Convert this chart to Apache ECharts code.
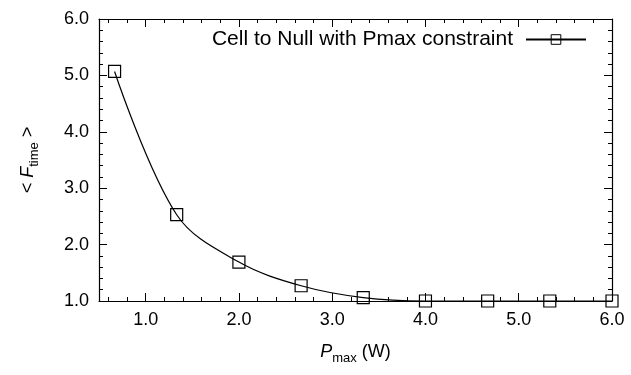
<!DOCTYPE html>
<html>
<head>
<meta charset="utf-8">
<script src="https://cdn.jsdelivr.net/npm/echarts@6/dist/echarts.min.js"></script>
<style>
html, body { margin: 0; padding: 0; background: #fff; }
#chartDiv { width: 631px; height: 375px; }
</style>
</head>
<body>
<div id="chartDiv"></div>
<script>
// 数据
var seriesName = 'Cell to Null with Pmax constraint';
var pmax = [0.667, 1.333, 2.0, 2.667, 3.333, 4.0, 4.667, 5.333, 6.0];
var ftime = [5.07, 2.53, 1.69, 1.27, 1.06, 1.0, 1.0, 1.0, 1.0];
// x 轴刻度
var xMajorTicks = [1.0, 2.0, 3.0, 4.0, 5.0, 6.0];
var xMinorTicks = [0.6, 0.8, 1.2, 1.4, 1.6, 1.8, 2.2, 2.4, 2.6, 2.8, 3.2, 3.4, 3.6, 3.8,
                   4.2, 4.4, 4.6, 4.8, 5.2, 5.4, 5.6, 5.8];

var points = pmax.map(function (x, i) { return [x, ftime[i]]; });

var font = 'Liberation Sans, Arial, Helvetica, sans-serif';
var xMin = 0.5, xMax = 6.0;

var labelStyle = {
    color: '#000',
    fontFamily: font,
    fontSize: 18,
    margin: 10,
    formatter: function (v) { return Number(v).toFixed(1); }
};
var lineStyle = { color: '#000', width: 1.2 };

// x 轴: 主刻度 + 次刻度各一根轴
function xAxisOf(pos, major, withLabel) {
    var ax = {
        type: 'value', position: pos, min: xMin, max: xMax,
        axisLine: { show: major, lineStyle: lineStyle },
        splitLine: { show: false },
        axisTick: {
            show: true, inside: true,
            length: major ? 8 : 4,
            customValues: major ? xMajorTicks : xMinorTicks,
            lineStyle: { color: '#000', width: 1 }
        },
        axisLabel: { show: false }
    };
    if (withLabel) {
        ax.axisLabel = Object.assign({ show: true, customValues: xMajorTicks }, labelStyle);
    }
    return ax;
}

function yAxisOf(pos, withLabel) {
    return {
        type: 'value', position: pos, min: 1.0, max: 6.0, interval: 1.0,
        axisLine: { show: true, lineStyle: lineStyle },
        splitLine: { show: false },
        axisTick: { show: true, inside: true, length: 8, lineStyle: { color: '#000', width: 1 } },
        minorTick: { show: true, splitNumber: 5, length: 4, lineStyle: { color: '#000', width: 1 } },
        axisLabel: withLabel ? Object.assign({ show: true }, labelStyle) : { show: false }
    };
}

var nameRich = {
    n: { fontFamily: font, fontSize: 18, color: '#000', lineHeight: 26, verticalAlign: 'middle' },
    i: { fontFamily: font, fontSize: 18, fontStyle: 'italic', color: '#000', lineHeight: 26, verticalAlign: 'middle' },
    sub: { fontFamily: font, fontSize: 13, color: '#000', lineHeight: 26, verticalAlign: 'bottom' }
};

var myChart = echarts.init(document.getElementById('chartDiv'));

var xMain = xAxisOf('bottom', true, true);
xMain.name = '{i|P}{sub|max}{n| (W)}';
xMain.nameLocation = 'middle';
xMain.nameGap = 38;
xMain.nameTextStyle = { rich: nameRich };

var yMain = yAxisOf('left', true);
yMain.name = '{n|< }{i|F}{sub|time}{n| >}';
yMain.nameLocation = 'middle';
yMain.nameRotate = 90;
yMain.nameGap = 58;
yMain.nameTextStyle = { rich: nameRich };

var option = {
    animation: false,
    backgroundColor: '#fff',
    grid: { left: 99, right: 19, top: 19, bottom: 74 },
    legend: {
        data: [seriesName],
        right: 44,
        top: 29,
        padding: 0,
        align: 'right',
        itemWidth: 60,
        itemHeight: 12,
        itemStyle: { color: 'rgba(0,0,0,0)', borderColor: '#000', borderWidth: 1 },
        textStyle: { fontFamily: font, fontSize: 21, color: '#000', padding: [0, 8, 0, 0] }
    },
    xAxis: [
        xMain,
        xAxisOf('bottom', false, false),
        xAxisOf('top', true, false),
        xAxisOf('top', false, false)
    ],
    yAxis: [
        yMain,
        yAxisOf('right', false)
    ],
    series: [
        {
            name: seriesName,
            type: 'line',
            data: points,
            smooth: 0.35,
            clip: false,
            symbol: 'rect',
            symbolSize: 12,
            showAllSymbol: true,
            lineStyle: { color: '#000', width: 1.2 },
            itemStyle: { color: 'rgba(0,0,0,0)', borderColor: '#000', borderWidth: 1.2 }
        }
    ]
};
myChart.setOption(option);
</script>
</body>
</html>
